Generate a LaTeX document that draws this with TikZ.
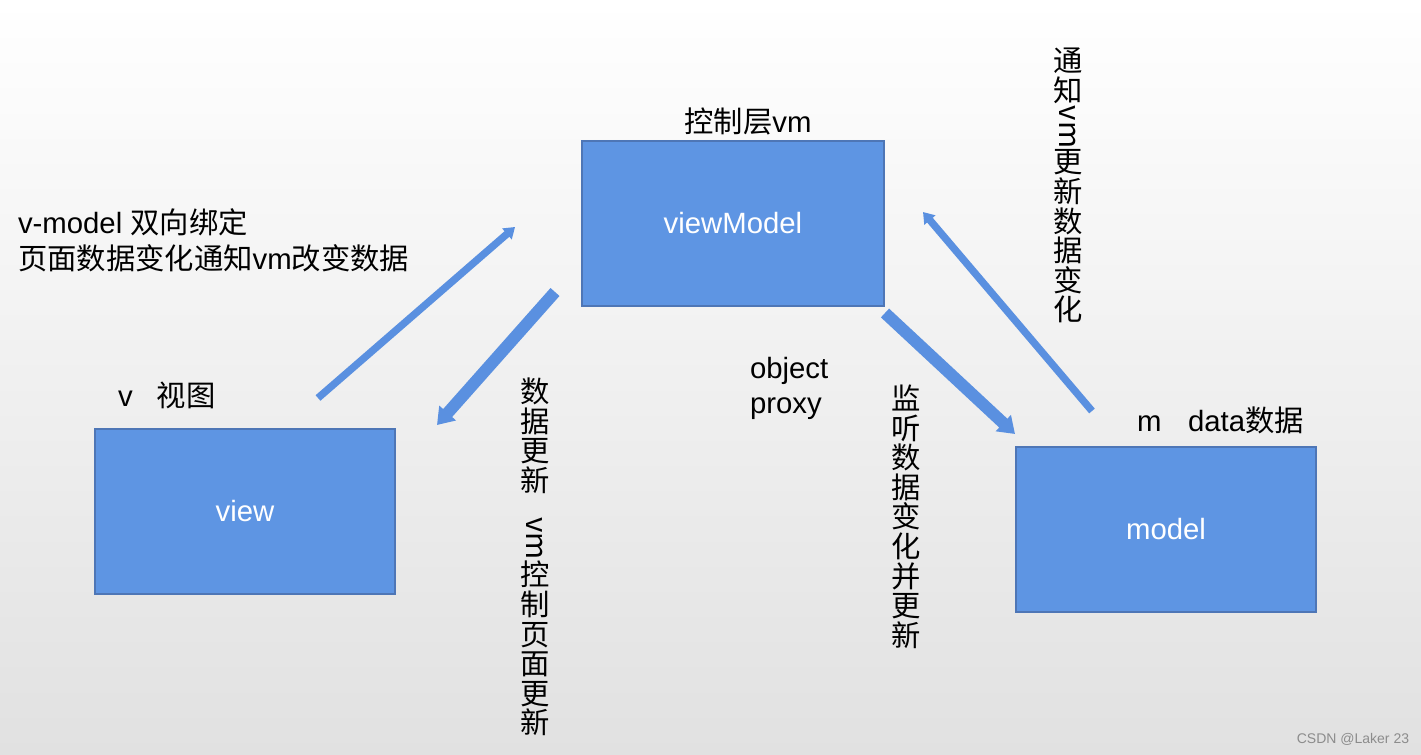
\documentclass[tikz,border=0pt]{standalone}
\usepackage{fontspec}
\setmainfont{Liberation Sans}
\newfontfamily\cjk{Noto Sans CJK SC}
\usetikzlibrary{arrows.meta}
\definecolor{boxblue}{RGB}{94,149,227}
\definecolor{boxedge}{RGB}{78,118,182}
\definecolor{arrblue}{RGB}{90,144,224}
\definecolor{bgbottom}{RGB}{225,225,225}
\newcommand{\vmrot}{\raisebox{0.85em}{\rotatebox{-90}{vm}}}
\begin{document}
\begin{tikzpicture}[x=0.75pt,y=-0.75pt,
  every node/.style={inner sep=0pt,outer sep=0pt},
  txt/.style={font=\fontsize{22}{27}\selectfont,text=black},
  vtxt/.style={font=\fontsize{22}{22.2}\selectfont\cjk,align=center,anchor=north,text=black},
  boxnode/.style={draw=boxedge,line width=0.8pt,fill=boxblue,anchor=north west,
     minimum width=225pt,minimum height=123.75pt,text=white,font=\fontsize{22}{27}\selectfont},
  thinarrow/.style={draw=arrblue,line width=5.5pt,-{Triangle[length=8pt,width=10.5pt]}},
  thickarrow/.style={draw=arrblue,line width=9pt,-{Triangle[length=12pt,width=16pt]}}]
\fill[top color=white,bottom color=bgbottom] (0,0) rectangle (1421,755);
\useasboundingbox (0,0) rectangle (1421,755);

% boxes
\node[boxnode,minimum width=226.5pt] (vm) at (582,141) {viewModel};
\node[boxnode] (view) at (95,429) {view};
\node[boxnode] (model) at (1016,447) {model};

% labels
\node[txt] (vmtitle) at (748,121) {{\cjk 控制层}vm};
\node[txt,anchor=west,align=left] (vmodel) at (18,240) {v-model {\cjk 双向绑定}\\{\cjk 页面数据变化通知}vm{\cjk 改变数据}};
\node[txt,anchor=west] (vlabel) at (118,395) {v\hspace{18pt}{\cjk 视图}};
\node[txt,anchor=west] (mlabel) at (1137,420) {m\hspace{20pt}data{\cjk 数据}};
\node[txt,anchor=west,align=left,font=\fontsize{22}{26.25}\selectfont] (proxy) at (750,388) {object\\proxy};

% vertical labels
\node[vtxt] (upd) at (535,378) {数\\据\\更\\新\\[16pt]\vmrot\\控\\制\\页\\面\\更\\新};
\node[vtxt] (listen) at (906,385) {监\\听\\数\\据\\变\\化\\并\\更\\新};
\node[vtxt] (notify) at (1068,48) {通\\知\\\vmrot\\更\\新\\数\\据\\变\\化};

% arrow end points
\coordinate (a1s) at (318,398);
\coordinate (a1e) at (515,227);
\coordinate (a2s) at (555,292);
\coordinate (a2e) at (437,425);
\coordinate (a3s) at (885,313);
\coordinate (a3e) at (1015,434);
\coordinate (a4s) at (1092,411);
\coordinate (a4e) at (923,212);

\draw[thinarrow] (a1s) -- (a1e);
\draw[thickarrow] (a2s) -- (a2e);
\draw[thickarrow] (a3s) -- (a3e);
\draw[thinarrow] (a4s) -- (a4e);

% watermark
\node[font=\fontsize{10.5}{12}\selectfont,text=black!45] (mark) at (1353,739) {CSDN @Laker 23};
\end{tikzpicture}
\end{document}
